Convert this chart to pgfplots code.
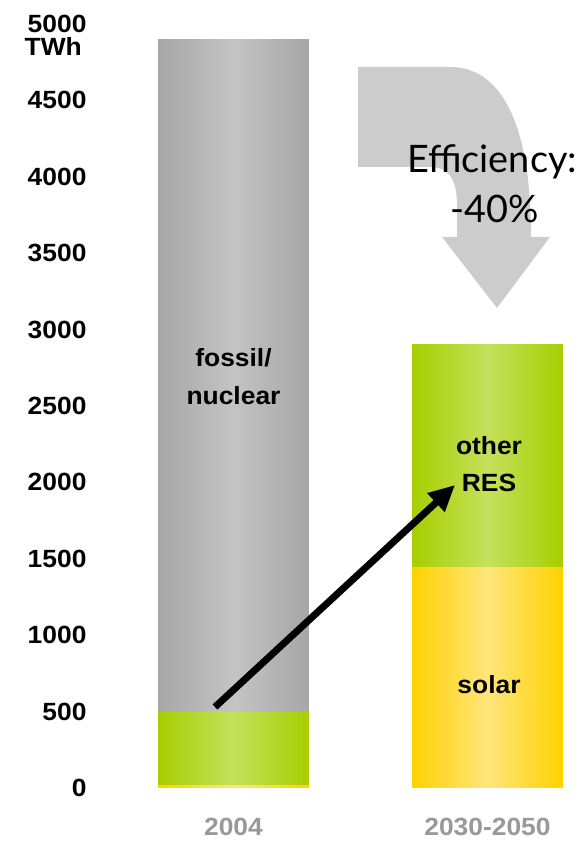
\documentclass[border=0pt]{standalone}
\usepackage{fontspec}
\setmainfont{Liberation Sans}[FakeStretch=1.06]
\newfontfamily\lato{Lato}
\usepackage{pgfplots}
\pgfplotsset{compat=1.18}
\usetikzlibrary{arrows.meta}
\definecolor{grayEdge}{HTML}{A6A6A6}
\definecolor{grayMid}{HTML}{C3C4C3}
\definecolor{greenEdge}{HTML}{A7CF00}
\definecolor{greenMid}{HTML}{C5E05C}
\definecolor{yelEdge}{HTML}{FFD200}
\definecolor{yelMid}{HTML}{FFE57C}
\definecolor{tickgray}{HTML}{999999}
\definecolor{arrowgray}{HTML}{CCCCCC}
\newcommand{\lab}{\fontsize{25}{30}\selectfont\bfseries}
\pgfplotsset{
  grayshade/.style={draw=none, left color=grayEdge, right color=grayEdge, middle color=grayMid},
  greenshade/.style={draw=none, left color=greenEdge, right color=greenEdge, middle color=greenMid},
  yelshade/.style={draw=none, left color=yelEdge, right color=yelEdge, middle color=yelMid},
}
\begin{document}
\begin{tikzpicture}
\path[use as bounding box] (0,0) rectangle (584bp,841bp);
\begin{axis}[
  at={(90bp,53bp)}, anchor=south west,
  scale only axis, width=494bp, height=764bp,
  xmin=-0.565, xmax=1.380, ymin=0, ymax=5000,
  ybar, bar width=0.594, bar shift=0pt,
  axis line style={draw=none}, major tick length=0pt,
  ytick={0,500,...,5000},
  xtick={0,1}, xticklabels={2004,2030-2050},
  /pgf/number format/assume math mode=true,
  /pgf/number format/1000 sep={},
  yticklabel style={font=\lab},
  xticklabel style={font=\lab, text=tickgray, inner sep=1bp, yshift=-29bp},
  clip=false,
]
% 2004: cumulative tops (solar 15, other RES to 500, fossil/nuclear to 4900)
\addplot[grayshade]  coordinates {(0,4900)};
\addplot[greenshade] coordinates {(0,500)};
\addplot[yelshade]   coordinates {(0,15)};
% 2030-2050: solar 1440, other RES to 2900
\addplot[greenshade] coordinates {(1,2900)};
\addplot[yelshade]   coordinates {(1,1440)};
\end{axis}
% unit label
\node[anchor=base east, font=\lab, inner sep=0pt] at (82bp,785bp) {TWh};
% big gray efficiency arrow
\fill[arrowgray] (358bp,774bp) -- (450bp,774bp)
  .. controls (500bp,774bp) and (531bp,720bp) .. (531bp,604bp)
  -- (550bp,604bp) -- (497bp,533bp) -- (442bp,604bp) -- (457bp,604bp)
  -- (457bp,636bp) .. controls (457bp,664bp) and (447bp,674bp) .. (430bp,674bp)
  -- (358bp,674bp) -- cycle;
\node[anchor=base, font=\lato\fontsize{38}{46}\selectfont, inner sep=0pt] at (492bp,668bp) {Efficiency:};
\node[anchor=base, font=\lato\fontsize{38}{46}\selectfont, inner sep=0pt] at (495bp,618bp) {-40\%};
% bar labels
\node[anchor=base, font=\lab, inner sep=0pt] at (233.5bp,474bp) {fossil/};
\node[anchor=base, font=\lab, inner sep=0pt] at (233.5bp,436bp) {nuclear};
\node[anchor=base, font=\lab, inner sep=0pt] at (489bp,386bp) {other};
\node[anchor=base, font=\lab, inner sep=0pt] at (489bp,349bp) {RES};
\node[anchor=base, font=\lab, inner sep=0pt] at (489bp,147bp) {solar};
% black arrow
\draw[line width=7bp, -{Triangle[length=26bp,width=24bp]}] (215bp,134bp) -- (455bp,356bp);
\end{tikzpicture}
\end{document}
